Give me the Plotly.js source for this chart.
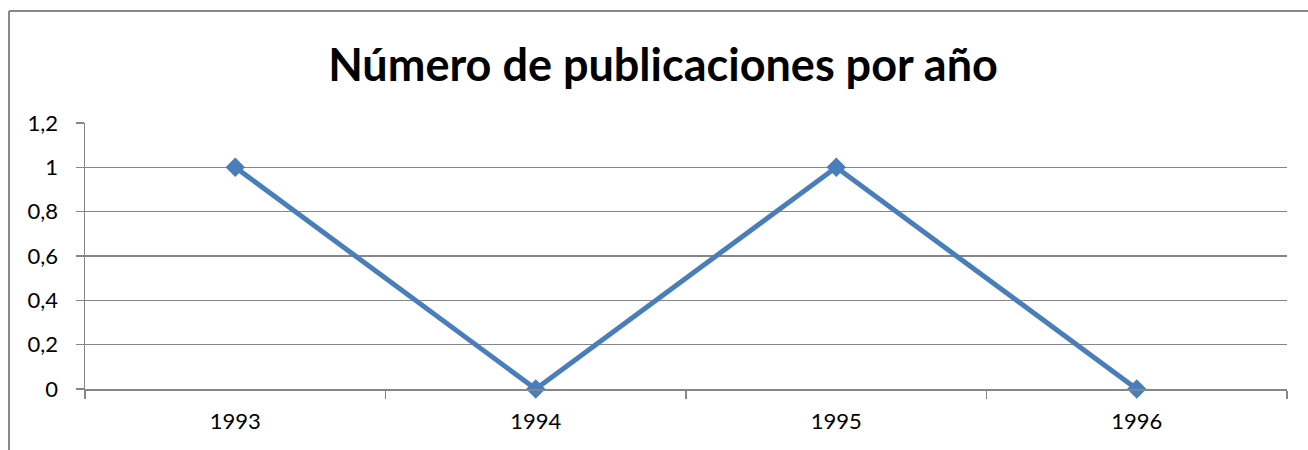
<!DOCTYPE html>
<html>
<head>
<meta charset="utf-8">
<script src="https://cdn.plot.ly/plotly-3.0.1.min.js"></script>
<style>html,body{margin:0;padding:0;background:#fff;}#chart{width:1308px;height:450px;}</style>
</head>
<body>
<div id="chart"></div>
<script>
const years = ["1993", "1994", "1995", "1996"];
const publications = [1, 0, 1, 0];
const yTicks = [0, 0.2, 0.4, 0.6, 0.8, 1, 1.2];

const W = 1308, H = 450;
const m = {l: 85, r: 21, t: 123, b: 61};
const pw = W - m.l - m.r, ph = H - m.t - m.b;
const px = x => (x - m.l) / pw;
const py = y => (H - m.b - y) / ph;

const trace = {
  x: years, y: publications, type: 'scatter', mode: 'lines+markers',
  line: {color: '#4a7ebb', width: 5},
  marker: {symbol: 'diamond', size: 15, color: '#4a7ebb'},
  hoverinfo: 'skip', cliponaxis: false
};

const layout = {
  width: W, height: H,
  margin: m,
  paper_bgcolor: '#fff', plot_bgcolor: '#fff',
  separators: ',.',
  showlegend: false,
  font: {family: 'Lato, "Open Sans", sans-serif', color: '#000'},
  title: {text: '<b>Número de publicaciones por año</b>', font: {size: 45, family: 'Lato, "Open Sans", sans-serif', color: '#000'},
          x: (663 - 85) / 1202, xanchor: 'center', y: 1 - 65/H, yanchor: 'middle', yref: 'container', xref: 'paper'},
  xaxis: {
    type: 'category', range: [-0.5, 3.5], tickson: 'boundaries',
    ticks: 'outside', ticklen: 8, tickcolor: '#868686', tickwidth: 1.5,
    showline: true, linecolor: '#868686', linewidth: 1.5,
    showgrid: false, zeroline: false,
    tickfont: {size: 22}, ticklabelstandoff: 12, fixedrange: true
  },
  yaxis: {
    range: [0, 1.2], tickvals: yTicks,
    ticks: 'outside', ticklen: 8, tickcolor: '#868686', tickwidth: 1.5,
    showline: true, linecolor: '#868686', linewidth: 1.5,
    showgrid: true, gridcolor: '#868686', gridwidth: 1.5,
    zeroline: false, tickfont: {size: 22}, ticklabelstandoff: 13, fixedrange: true
  },
  shapes: [
    {type: 'line', xref: 'paper', yref: 'paper', x0: px(9), x1: px(9), y0: py(11), y1: py(450), line: {color: '#888', width: 2}},
    {type: 'line', xref: 'paper', yref: 'paper', x0: px(9), x1: px(1308), y0: py(11), y1: py(11), line: {color: '#888', width: 2}}
  ]
};

Plotly.newPlot('chart', [trace], layout, {displayModeBar: false, staticPlot: true});
</script>
</body>
</html>
